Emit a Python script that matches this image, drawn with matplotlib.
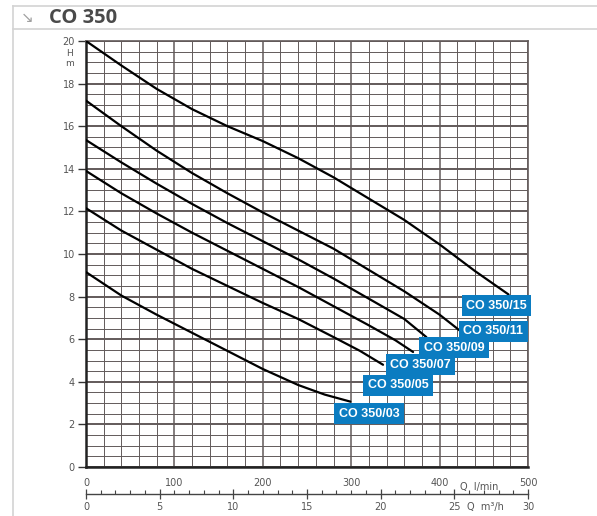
import matplotlib
matplotlib.use("Agg")
import matplotlib.pyplot as plt
import matplotlib.transforms as mtransforms
from matplotlib.lines import Line2D
import numpy as np

# pump curves: Q in l/min, H in m
q_15 = [0, 40, 80, 120, 160, 200, 240, 280, 320, 360, 400, 440, 478]
h_15 = [20.0, 18.85, 17.75, 16.8, 16.0, 15.3, 14.5, 13.6, 12.6, 11.6, 10.45, 9.2, 8.1]

q_11 = [0, 40, 80, 120, 160, 200, 240, 280, 320, 360, 400, 423]
h_11 = [17.2, 16.0, 14.85, 13.8, 12.85, 11.95, 11.1, 10.25, 9.25, 8.25, 7.15, 6.4]

q_09 = [0, 40, 80, 120, 160, 200, 240, 280, 320, 360, 385]
h_09 = [15.35, 14.3, 13.3, 12.35, 11.45, 10.6, 9.75, 8.85, 7.9, 6.95, 6.1]

q_07 = [0, 40, 80, 120, 160, 200, 240, 280, 320, 350, 370]
h_07 = [13.9, 12.85, 11.9, 11.0, 10.15, 9.3, 8.45, 7.55, 6.65, 5.95, 5.4]

q_05 = [0, 40, 80, 120, 160, 200, 240, 280, 310, 336]
h_05 = [12.15, 11.1, 10.2, 9.3, 8.5, 7.7, 6.95, 6.1, 5.45, 4.8]

q_03 = [0, 40, 80, 120, 160, 200, 240, 270, 299]
h_03 = [9.15, 8.05, 7.15, 6.3, 5.45, 4.6, 3.85, 3.4, 3.07]

curves = [(q_15, h_15), (q_11, h_11), (q_09, h_09),
          (q_07, h_07), (q_05, h_05), (q_03, h_03)]

model_names = ["CO 350/15", "CO 350/11", "CO 350/09",
               "CO 350/07", "CO 350/05", "CO 350/03"]
label_q = [430, 427, 382, 344, 319, 286]
label_h = [7.56, 6.38, 5.61, 4.81, 3.83, 2.51]

h_ticks = list(range(0, 21, 2))
q_ticks = [0, 100, 200, 300, 400, 500]
m3h_ticks = [0, 5, 10, 15, 20, 25, 30]

W, H = 597, 516
fig = plt.figure(figsize=(W / 100, H / 100), dpi=100)
fig.patch.set_facecolor("white")

# header frame
hdr = "#d3d3d3"
fig.add_artist(Line2D([12.5 / W, 1], [1 - 6 / H, 1 - 6 / H], color=hdr, lw=1.2))
fig.add_artist(Line2D([12.5 / W, 1], [1 - 28.5 / H, 1 - 28.5 / H], color=hdr, lw=1.2))
fig.add_artist(Line2D([12.5 / W, 12.5 / W], [0, 1 - 6 / H], color=hdr, lw=1.2))
fig.text(27 / W, 1 - 18 / H, "\u2198", color="#a0a0a0", fontsize=11,
         ha="center", va="center", family="DejaVu Sans")
fig.text(49 / W, 1 - 18 / H, "CO 350", color="#4a4a4a", fontsize=14.5,
         fontweight="bold", ha="left", va="center", family="Open Sans")

ax = fig.add_axes([86 / W, 49 / H, 442 / W, 426 / H])
ax.set_xlim(0, 500)
ax.set_ylim(0, 20)

gcol = "#625a5a"
for y in np.arange(0, 20.01, 0.5):
    major = abs(y - round(y / 2) * 2) < 1e-6
    ax.axhline(y, color=gcol, lw=1.4 if major else 0.7, zorder=1)
for x in range(0, 501, 20):
    ax.axvline(x, color=gcol, lw=1.1 if x % 100 == 0 else 0.7, zorder=1)

for q, h in curves:
    ax.plot(q, h, color="black", lw=1.6, zorder=3, solid_capstyle="round",
            solid_joinstyle="round")

for name, lq, lh in zip(model_names, label_q, label_h):
    ax.text(lq, lh, name, color="white", fontsize=9, fontweight="bold",
            family="Liberation Sans", ha="left", va="center", zorder=5,
            clip_on=False,
            bbox=dict(boxstyle="square,pad=0.36", fc="#0b7cc1", ec="none"))

for s in ax.spines.values():
    s.set_color(gcol)
    s.set_linewidth(1.2)
ax.spines["left"].set_color("#222222")
ax.spines["left"].set_linewidth(1.8)
ax.spines["bottom"].set_color("#222222")
ax.spines["bottom"].set_linewidth(1.8)

ax.set_yticks(h_ticks)
ax.tick_params(axis="y", direction="out", length=6, width=1.0, color="#333333",
               labelsize=7, labelcolor="#555555", pad=2)
ax.set_xticks(q_ticks)
ax.set_xticklabels([str(v) for v in q_ticks])
ax.tick_params(axis="x", length=0, labelsize=7, labelcolor="#555555", pad=8)

ax.text(-19, 19.4, "H", fontsize=6.5, color="#555555",
        ha="center", va="center", clip_on=False)
ax.text(-19, 18.95, "m", fontsize=6.5, color="#555555",
        ha="center", va="center", clip_on=False)

blend = mtransforms.blended_transform_factory(ax.transData, ax.transAxes)
ax.text(445, -0.047, "Q  l/min", transform=blend, fontsize=7, color="#555555",
        ha="center", va="center", clip_on=False)

sec = ax.secondary_xaxis(-27 / 426, functions=(lambda q: q * 0.06, lambda m: m / 0.06))
sec.set_xticks(m3h_ticks)
sec.set_xticklabels([str(v) for v in m3h_ticks])
sec.set_xticks(range(0, 31), minor=True)
sec.spines["bottom"].set_color("#444444")
sec.spines["bottom"].set_linewidth(1.0)
sec.tick_params(axis="x", which="major", direction="inout", length=7, width=0.9,
                color="#444444", labelsize=7, labelcolor="#555555", pad=2)
sec.tick_params(axis="x", which="minor", direction="in", length=3, width=0.8,
                color="#444444")
ax.text(452, -0.094, "Q  m\u00b3/h", transform=blend, fontsize=7, color="#555555",
        ha="center", va="center", clip_on=False)

fig.savefig("out.png", dpi=100, facecolor="white")
